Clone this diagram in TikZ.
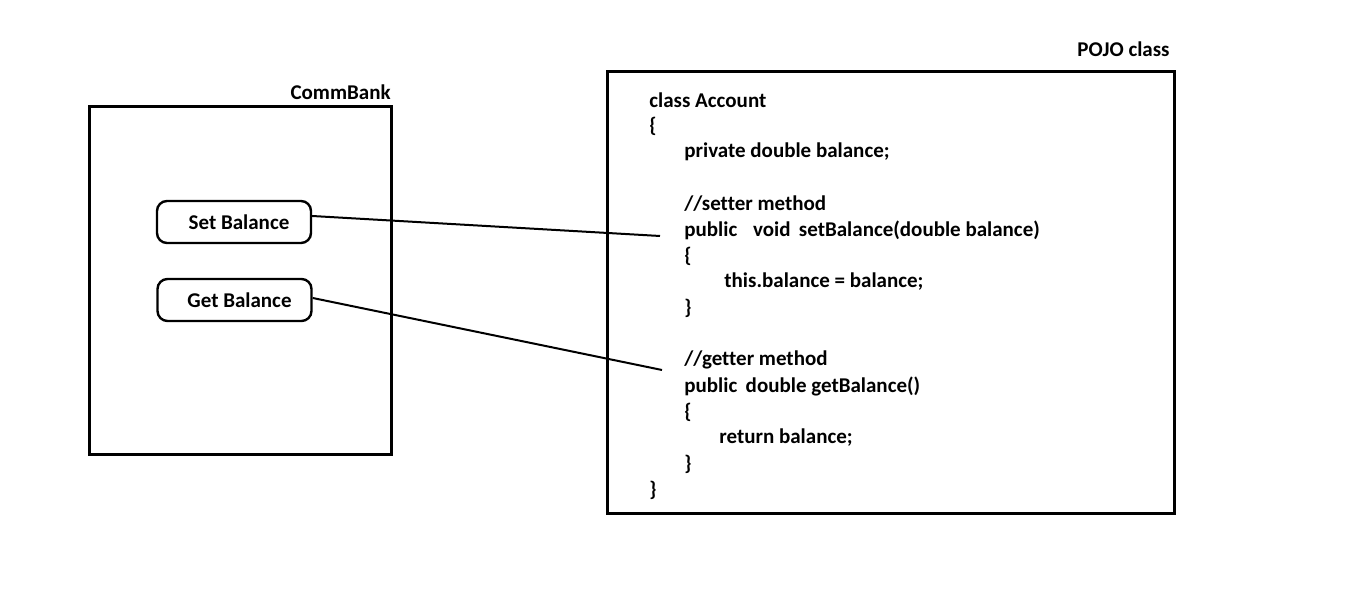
\documentclass[tikz,border=0pt]{standalone}
\usepackage{fontspec}
\setmainfont{Carlito}[Ligatures=NoCommon]
\begin{document}
\begin{tikzpicture}[x=0.5pt,y=-0.5pt,
  frame/.style={draw,line width=1.5pt},
  btn/.style={draw,line width=1.2pt,rounded corners=5pt,minimum width=77pt,minimum height=21pt,inner sep=0pt,font=\fontsize{10.5}{12}\bfseries},
  lbl/.style={font=\fontsize{10.5}{12}\bfseries,inner sep=0pt},
  code/.style={font=\fontsize{10.5}{12}\bfseries,inner sep=0pt,anchor=west},
  link/.style={line width=1pt}]
\useasboundingbox (0,0) rectangle (1360,613);
% CommBank box
\draw[frame] (89,107) rectangle (391,455);
\node[lbl,anchor=east] (cb) at (391,92) {CommBank};
\node[btn] (sb) at (234,222) {\hspace*{5pt}Set Balance};
\node[btn] (gb) at (234.5,300) {\hspace*{5pt}Get Balance};
% POJO box
\draw[frame] (607,72) rectangle (1174,514);
\node[lbl,anchor=east] (pj) at (1170,49) {POJO class};
\node[code] (l1) at (649,100) {class Account};
\node[code] (l2) at (649,126) {\{};
\node[code] (l3) at (684,152) {private double balance;};
\node[code] (l4) at (684,204) {//setter method};
\node[code] (l5) at (684,230) {public\hspace{0.75em}void\hspace{0.4em}setBalance(double balance)};
\node[code] (l6) at (684,256) {\{};
\node[code] (l7) at (724,282) {this.balance = balance;};
\node[code] (l8) at (684,308) {\}};
\node[code] (l9) at (684,360) {//getter method};
\node[code] (l10) at (684,386) {public\hspace{0.4em}double getBalance()};
\node[code] (l11) at (684,412) {\{};
\node[code] (l12) at (719,438) {return balance;};
\node[code] (l13) at (684,464) {\}};
\node[code] (l14) at (649,490) {\}};
\coordinate (se) at (660,236);
\coordinate (ge) at (662,370);
\draw[link] ([yshift=3pt]sb.east) -- (se);
\draw[link] ([yshift=1pt]gb.east) -- (ge);
\end{tikzpicture}
\end{document}
